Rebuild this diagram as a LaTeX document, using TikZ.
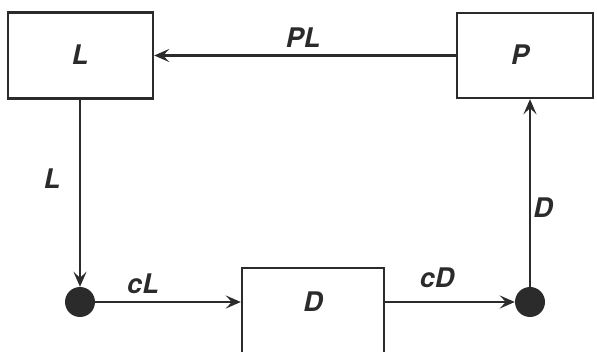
\documentclass[tikz,border=0pt]{standalone}
\usepackage{fontspec}
\setmainfont{TeX Gyre Heros}
\usetikzlibrary{arrows.meta}
\definecolor{ink}{HTML}{2B2B2B}
\tikzset{
  box/.style={draw=ink, line width=2.4pt, fill=none, inner sep=0pt},
  lbl/.style={text=ink, inner sep=0pt, font=\fontsize{27}{27}\selectfont\bfseries\itshape},
  dot/.style={circle, fill=ink, draw=none, minimum size=30pt, inner sep=0pt},
  conn/.style={draw=ink, line width=2.2pt, -{Stealth[length=15pt,width=13pt,inset=6pt]}}
}
\begin{document}
\begin{tikzpicture}[x=1pt,y=-1pt]
\clip (0,0) rectangle (597,352);
\fill[white] (0,0) rectangle (597,352);
% boxes
\node[box, minimum width=145pt, minimum height=86pt] (L) at (80.5,55.5) {};
\node[lbl] (Ltext) at (80,55) {L};
\node[box, minimum width=136pt, minimum height=85pt] (P) at (525,55.5) {};
\node[lbl] (Ptext) at (520,55) {P};
\node[box, minimum width=142pt, minimum height=96pt] (D) at (313,316) {};
\node[lbl] (Dtext) at (313,302) {D};
% dots
\node[dot] (dl) at (80,302) {};
\node[dot] (dr) at (530,302) {};
% connectors
\draw[conn] (P.west) -- (L.east);
\draw[conn] (L.south -| dl.north) -- (dl.north);
\draw[conn] (dl.east) -- (dl.east -| D.west);
\draw[conn] (D.east |- dr.west) -- (dr.west);
\draw[conn] (dr.north) -- (dr.north |- P.south);
% labels
\node[lbl] (lPL) at (303,38) {PL};
\node[lbl] (lL) at (52,179) {L};
\node[lbl] (lcL) at (143,284) {cL};
\node[lbl] (lcD) at (437,278) {cD};
\node[lbl] (lD) at (543,208) {D};
\end{tikzpicture}
\end{document}
